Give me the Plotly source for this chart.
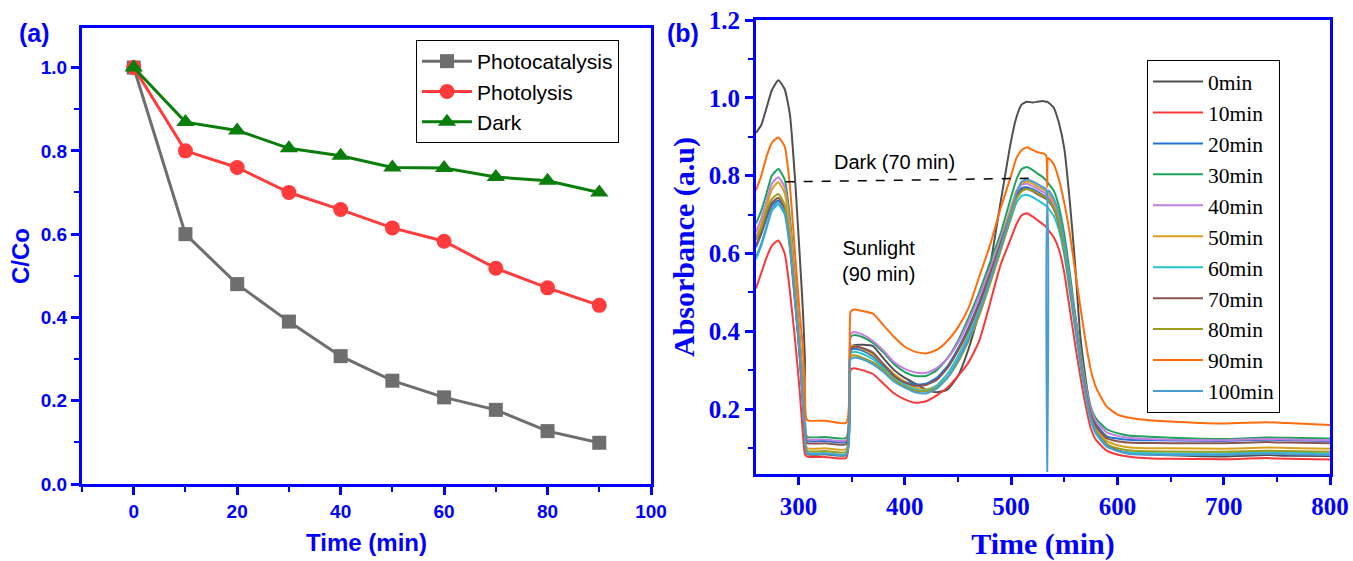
import plotly.graph_objects as go

# ---------------- Panel (a): relative concentration vs time ----------------
time_min = [0, 10, 20, 30, 40, 50, 60, 70, 80, 90]
photocatalysis = [1.0, 0.60, 0.48, 0.39, 0.307, 0.248, 0.208, 0.178, 0.127, 0.099]
photolysis = [1.0, 0.80, 0.76, 0.70, 0.659, 0.615, 0.583, 0.518, 0.471, 0.429]
dark = [1.0, 0.869, 0.849, 0.806, 0.788, 0.760, 0.759, 0.737, 0.728, 0.700]

# ---------------- Panel (b): absorbance spectra ----------------
wavelength = [
    260, 265, 270, 275, 281, 287, 292, 297, 301, 304, 306, 308,
    325, 345, 349, 352, 360, 370, 380, 390, 400, 410,
    420, 430, 440, 450, 460, 470, 480, 490, 500, 505,
    510, 515, 520, 525, 530, 533, 534, 535, 540, 545,
    550, 555, 560, 565, 570, 575, 580, 590, 600, 610,
    620, 650, 700, 740, 760, 800,
]

abs_0min = [
    0.91, 0.93, 0.975, 1.02, 1.045, 1.022, 0.955, 0.78, 0.60, 0.46, 0.33, 0.085,
    0.084, 0.082, 0.36, 0.364, 0.365, 0.362, 0.33, 0.30, 0.28, 0.265,
    0.25, 0.243, 0.25, 0.285, 0.355, 0.45, 0.565, 0.73, 0.89, 0.95,
    0.983, 0.99, 0.988, 0.99, 0.992, 0.99, 0.99, 0.988, 0.975, 0.935,
    0.87, 0.74, 0.58, 0.39, 0.28, 0.19, 0.15, 0.11, 0.095, 0.088,
    0.085, 0.081, 0.078, 0.082, 0.080, 0.079,
]
abs_10min = [
    0.51, 0.55, 0.59, 0.62, 0.633, 0.60, 0.50, 0.37, 0.25, 0.14, 0.085, 0.078,
    0.077, 0.075, 0.30, 0.305, 0.30, 0.29, 0.265, 0.24, 0.225, 0.216,
    0.22, 0.235, 0.255, 0.285, 0.32, 0.375, 0.47, 0.57, 0.64, 0.675,
    0.698, 0.703, 0.695, 0.685, 0.675, 0.668, 0.665, 0.66, 0.642, 0.61,
    0.55, 0.46, 0.37, 0.285, 0.21, 0.15, 0.12, 0.093, 0.083, 0.078,
    0.075, 0.072, 0.071, 0.074, 0.072, 0.070,
]
abs_20min = [
    0.616, 0.65, 0.69, 0.725, 0.736, 0.71, 0.62, 0.47, 0.34, 0.22, 0.14, 0.119,
    0.118, 0.116, 0.35, 0.355, 0.35, 0.335, 0.31, 0.285, 0.27, 0.263,
    0.265, 0.28, 0.31, 0.355, 0.41, 0.475, 0.55, 0.63, 0.71, 0.75,
    0.768, 0.77, 0.765, 0.758, 0.75, 0.745, 0.743, 0.74, 0.72, 0.68,
    0.62, 0.53, 0.44, 0.345, 0.26, 0.195, 0.16, 0.13, 0.124, 0.121,
    0.120, 0.119, 0.118, 0.121, 0.120, 0.118,
]
abs_30min = [
    0.677, 0.71, 0.755, 0.80, 0.817, 0.79, 0.69, 0.53, 0.39, 0.27, 0.175, 0.129,
    0.128, 0.126, 0.385, 0.39, 0.385, 0.37, 0.345, 0.315, 0.295, 0.285,
    0.285, 0.30, 0.33, 0.375, 0.435, 0.50, 0.575, 0.65, 0.745, 0.79,
    0.817, 0.822, 0.815, 0.805, 0.796, 0.787, 0.784, 0.78, 0.762, 0.72,
    0.65, 0.555, 0.45, 0.355, 0.27, 0.205, 0.175, 0.148, 0.138, 0.132,
    0.130, 0.126, 0.123, 0.127, 0.126, 0.124,
]
abs_40min = [
    0.655, 0.69, 0.735, 0.78, 0.796, 0.77, 0.67, 0.515, 0.38, 0.26, 0.17, 0.123,
    0.122, 0.120, 0.393, 0.398, 0.392, 0.375, 0.35, 0.32, 0.303, 0.294,
    0.293, 0.305, 0.33, 0.37, 0.425, 0.49, 0.56, 0.635, 0.72, 0.76,
    0.776, 0.779, 0.773, 0.765, 0.758, 0.752, 0.75, 0.747, 0.73, 0.69,
    0.625, 0.535, 0.44, 0.345, 0.262, 0.20, 0.168, 0.14, 0.131, 0.126,
    0.124, 0.121, 0.120, 0.123, 0.122, 0.120,
]
abs_50min = [
    0.642, 0.675, 0.72, 0.765, 0.783, 0.755, 0.66, 0.505, 0.37, 0.25, 0.155, 0.100,
    0.099, 0.097, 0.36, 0.362, 0.355, 0.34, 0.315, 0.29, 0.27, 0.255,
    0.25, 0.26, 0.29, 0.335, 0.395, 0.465, 0.545, 0.625, 0.715, 0.76,
    0.78, 0.785, 0.78, 0.772, 0.765, 0.76, 0.758, 0.755, 0.735, 0.695,
    0.625, 0.53, 0.43, 0.335, 0.25, 0.185, 0.15, 0.118, 0.107, 0.102,
    0.100, 0.099, 0.098, 0.101, 0.100, 0.098,
]
abs_60min = [
    0.585, 0.62, 0.665, 0.71, 0.726, 0.70, 0.61, 0.465, 0.34, 0.22, 0.135, 0.088,
    0.087, 0.085, 0.343, 0.347, 0.342, 0.328, 0.305, 0.28, 0.263, 0.25,
    0.247, 0.26, 0.29, 0.335, 0.39, 0.455, 0.53, 0.61, 0.69, 0.73,
    0.748, 0.75, 0.745, 0.737, 0.728, 0.722, 0.72, 0.716, 0.697, 0.66,
    0.595, 0.505, 0.41, 0.315, 0.235, 0.17, 0.135, 0.103, 0.093, 0.088,
    0.087, 0.086, 0.086, 0.089, 0.088, 0.086,
]
abs_70min = [
    0.62, 0.655, 0.70, 0.73, 0.743, 0.715, 0.625, 0.475, 0.345, 0.225, 0.145, 0.113,
    0.112, 0.110, 0.355, 0.36, 0.357, 0.345, 0.315, 0.285, 0.268, 0.26,
    0.262, 0.275, 0.305, 0.35, 0.405, 0.47, 0.545, 0.625, 0.705, 0.745,
    0.763, 0.766, 0.76, 0.752, 0.745, 0.74, 0.738, 0.735, 0.715, 0.675,
    0.61, 0.52, 0.425, 0.333, 0.25, 0.188, 0.155, 0.125, 0.117, 0.114,
    0.113, 0.112, 0.112, 0.115, 0.114, 0.112,
]
abs_80min = [
    0.635, 0.665, 0.71, 0.74, 0.753, 0.725, 0.63, 0.48, 0.35, 0.23, 0.14, 0.093,
    0.092, 0.090, 0.335, 0.338, 0.332, 0.32, 0.30, 0.275, 0.258, 0.247,
    0.245, 0.255, 0.28, 0.32, 0.375, 0.44, 0.52, 0.605, 0.695, 0.74,
    0.76, 0.765, 0.762, 0.755, 0.748, 0.743, 0.741, 0.738, 0.718, 0.678,
    0.61, 0.518, 0.42, 0.325, 0.242, 0.178, 0.143, 0.11, 0.099, 0.094,
    0.092, 0.091, 0.090, 0.093, 0.092, 0.090,
]
abs_90min = [
    0.762, 0.80, 0.85, 0.885, 0.898, 0.875, 0.77, 0.59, 0.45, 0.36, 0.25, 0.172,
    0.170, 0.165, 0.45, 0.456, 0.452, 0.445, 0.415, 0.385, 0.36, 0.347,
    0.343, 0.352, 0.375, 0.41, 0.46, 0.54, 0.62, 0.715, 0.80, 0.845,
    0.866, 0.873, 0.866, 0.86, 0.857, 0.852, 0.77, 0.845, 0.83, 0.79,
    0.73, 0.655, 0.56, 0.465, 0.375, 0.30, 0.255, 0.206, 0.186, 0.178,
    0.174, 0.168, 0.163, 0.166, 0.164, 0.159,
]
abs_100min = [
    0.59, 0.625, 0.67, 0.715, 0.732, 0.705, 0.615, 0.47, 0.345, 0.225, 0.14, 0.086,
    0.085, 0.083, 0.328, 0.332, 0.328, 0.315, 0.295, 0.27, 0.255, 0.243,
    0.24, 0.252, 0.28, 0.325, 0.38, 0.45, 0.53, 0.615, 0.705, 0.755,
    0.785, 0.79, 0.785, 0.778, 0.77, 0.765, 0.04, 0.762, 0.742, 0.70,
    0.63, 0.53, 0.425, 0.325, 0.24, 0.175, 0.14, 0.105, 0.092, 0.085,
    0.083, 0.082, 0.082, 0.085, 0.084, 0.082,
]

spectra_labels = ["0min", "10min", "20min", "30min", "40min", "50min",
                  "60min", "70min", "80min", "90min", "100min"]
spectra = [abs_0min, abs_10min, abs_20min, abs_30min, abs_40min, abs_50min,
           abs_60min, abs_70min, abs_80min, abs_90min, abs_100min]
spectra_colors = ["#505050", "#f8383a", "#2273d6", "#1ea35c", "#c47ee0", "#d9a01e",
                  "#26c4d0", "#8a5350", "#9c9c1e", "#ff6c0e", "#4b9cd0"]

# dashed guide across the "Dark (70 min)" level
dark_line_x = [288, 517]
dark_line_y = [0.784, 0.793]

BLUE = "#0000ff"
SANS = "Liberation Sans, Arial, sans-serif"
SERIF = "Liberation Serif, Times New Roman, serif"

fig = go.Figure()

# panel (a) traces
fig.add_trace(go.Scatter(
    x=time_min, y=photocatalysis, name="Photocatalysis", mode="lines+markers",
    line=dict(color="#6e6e6e", width=3),
    marker=dict(symbol="square", size=14, color="#6e6e6e"),
    xaxis="x", yaxis="y", legend="legend"))
fig.add_trace(go.Scatter(
    x=time_min, y=photolysis, name="Photolysis", mode="lines+markers",
    line=dict(color="#ff3b3b", width=3),
    marker=dict(symbol="circle", size=15, color="#ff3b3b"),
    xaxis="x", yaxis="y", legend="legend"))
fig.add_trace(go.Scatter(
    x=time_min, y=dark, name="Dark", mode="lines+markers",
    line=dict(color="#0a7d0a", width=3),
    marker=dict(symbol="triangle-up", size=16, color="#0a7d0a"),
    xaxis="x", yaxis="y", legend="legend"))

# panel (b) traces
for label, values, color in zip(spectra_labels, spectra, spectra_colors):
    fig.add_trace(go.Scatter(
        x=wavelength, y=values, name=label, mode="lines",
        line=dict(color=color, width=2, shape="spline", smoothing=0.5),
        xaxis="x2", yaxis="y2", legend="legend2"))


def axis_style(font_family, tick_size, title_text, title_size, rng, dtick, minor_dtick,
               domain, anchor, fmt, standoff):
    return dict(
        domain=domain, anchor=anchor, range=rng, automargin=False,
        showline=True, linecolor=BLUE, linewidth=3, mirror=True,
        ticks="outside", ticklen=8, tickwidth=2.5, tickcolor=BLUE,
        dtick=dtick, tick0=0, tickformat=fmt,
        minor=dict(dtick=minor_dtick, ticks="outside", ticklen=5,
                   tickwidth=2, tickcolor=BLUE, showgrid=False),
        showgrid=False, zeroline=False,
        tickfont=dict(family=font_family, size=tick_size, color=BLUE, weight="bold"),
        title=dict(text=title_text, standoff=standoff,
                   font=dict(family=font_family, size=title_size, color=BLUE, weight="bold")),
    )


W, H = 1353, 561
fig.update_layout(
    width=W, height=H,
    margin=dict(l=0, r=0, t=0, b=0, autoexpand=False),
    paper_bgcolor="white", plot_bgcolor="white",
    xaxis=axis_style(SANS, 19, "Time (min)", 24, [-10, 100], 20, 10,
                     [82 / W, 651 / W], "y", "d", 14),
    yaxis=axis_style(SANS, 19, "C/Co", 24, [0, 1.095], 0.2, 0.1,
                     [1 - 484 / H, 1 - 28 / H], "x", ".1f", 5),
    xaxis2=axis_style(SERIF, 25, "Time (min)", 30, [260, 800], 100, 50,
                      [756 / W, 1330 / W], "y2", "d", 14),
    yaxis2=axis_style(SERIF, 25, "Absorbance (a.u)", 30, [0.033, 1.2], 0.2, 0.1,
                      [1 - 474 / H, 1 - 20 / H], "x2", ".1f", 6),
    legend=dict(x=416 / W, y=1 - 40 / H, xanchor="left", yanchor="top",
                bgcolor="white", bordercolor="black", borderwidth=1,
                font=dict(family=SANS, size=21, color="black"),
                itemwidth=50, tracegroupgap=0),
    legend2=dict(x=1147 / W, y=1 - 60 / H, xanchor="left", yanchor="top",
                 bgcolor="white", bordercolor="black", borderwidth=1,
                 font=dict(family=SERIF, size=21.5, color="black"),
                 itemwidth=50, tracegroupgap=0),
    showlegend=True,
)

# panel letters
fig.add_annotation(x=34 / W, y=1 - 33 / H, xref="paper", yref="paper", text="(a)",
                   xanchor="center", yanchor="middle", showarrow=False,
                   font=dict(family=SANS, size=25, color=BLUE, weight="bold"))
fig.add_annotation(x=683 / W, y=1 - 33 / H, xref="paper", yref="paper", text="(b)",
                   xanchor="center", yanchor="middle", showarrow=False,
                   font=dict(family=SANS, size=25, color=BLUE, weight="bold"))

# panel (b) text labels
fig.add_annotation(x=390, y=0.835, xref="x2", yref="y2", text="Dark (70 min)",
                   showarrow=False, font=dict(family=SANS, size=20, color="black"))
fig.add_annotation(x=375, y=0.58, xref="x2", yref="y2", text="Sunlight<br>(90 min)",
                   showarrow=False, align="center",
                   font=dict(family=SANS, size=20, color="black"))
fig.add_shape(type="line", xref="x2", yref="y2",
              x0=dark_line_x[0], y0=dark_line_y[0], x1=dark_line_x[1], y1=dark_line_y[1],
              line=dict(color="black", width=1.5, dash="dash"))

fig.write_html("out.html")
